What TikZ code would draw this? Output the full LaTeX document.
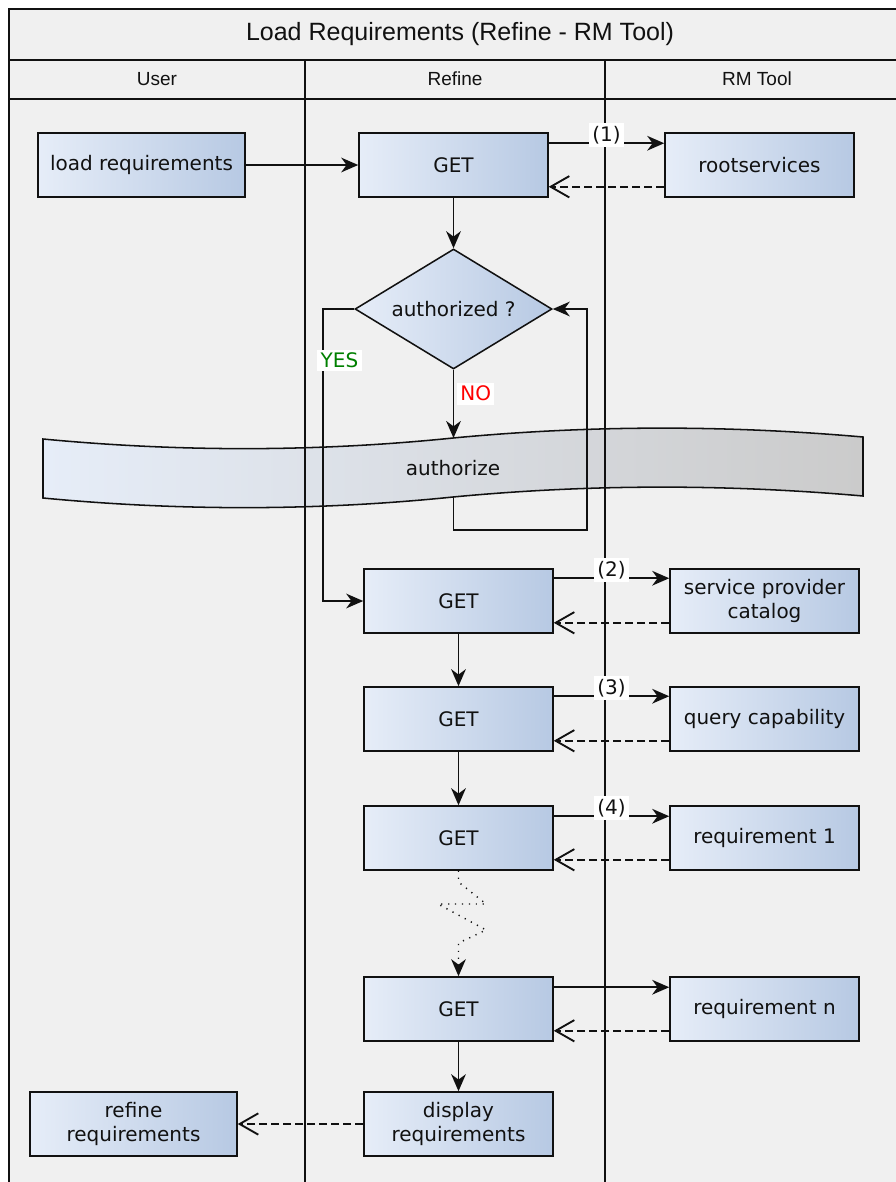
\documentclass[tikz,border=0pt]{standalone}
\usepackage{fontspec}
\setmainfont{DejaVu Sans}
\newfontfamily\lanefont{Liberation Sans}
\usetikzlibrary{arrows.meta,shapes.geometric}

\definecolor{poolbg}{HTML}{F0F0F0}
\definecolor{boxlight}{HTML}{E6EDF8}
\definecolor{boxdark}{HTML}{B7C9E3}
\definecolor{bandright}{HTML}{CBCBCB}
\definecolor{yesgreen}{HTML}{008000}
\definecolor{ink}{HTML}{111111}

\tikzset{
  boxfont/.style={font=\fontsize{15}{17.5}\selectfont, text=ink},
  stepbox/.style={draw=ink, line width=1.15pt, left color=boxlight, right color=boxdark,
    minimum width=141.75pt, minimum height=48pt, inner sep=0pt, align=center, boxfont},
  widebox/.style={stepbox, minimum width=155.25pt},
  decision/.style={diamond, draw=ink, line width=1.15pt, left color=boxlight, right color=boxdark,
    minimum width=147.75pt, minimum height=90pt, inner sep=0pt},
  flow/.style={draw=ink, line width=1.4pt, -{Stealth[length=12.75pt,width=11pt,inset=4pt]}},
  reply/.style={draw=ink, line width=1.4pt, dash pattern=on 6pt off 3pt,
    -{Straight Barb[length=14pt,width=16pt]}},
  zigzag/.style={draw=ink, line width=1.1pt, dash pattern=on 0.9pt off 4.3pt,
    -{Stealth[length=12.75pt,width=11pt,inset=4pt]}},
  seqlbl/.style={fill=white, inner sep=2.5pt, boxfont},
  lanehdr/.style={font=\lanefont\fontsize{14.25}{16}\selectfont, text=ink},
  poolline/.style={draw=ink, line width=1.4pt},
}

\begin{document}
\begin{tikzpicture}[x=0.75pt,y=-0.75pt]
  % page and clipping
  \fill[white] (0,0) rectangle (896,1182);
  \clip (0,0) rectangle (896,1182);
  \useasboundingbox (0,0) rectangle (896,1182);

  % pool background
  \fill[poolbg] (9,9) rectangle (912,1200);

  % the "authorize" tape spanning all lanes
  \draw[draw=ink, line width=1.15pt, left color=boxlight, right color=bandright]
    (43,439) .. controls (180,452) and (316,452) .. (453,438)
             .. controls (590,425) and (726,425) .. (863,437)
    -- (863,496) .. controls (726,484) and (590,484) .. (453,497)
             .. controls (316,511) and (180,511) .. (43,498) -- cycle;
  \node[boxfont] (authz) at (453,468) {authorize};
  \coordinate (bandtop) at (453.5,438);
  \coordinate (bandbot) at (453.5,497);

  % pool frame, header rows and lane separators
  \draw[poolline, line width=1.6pt] (912,9) -- (9,9) -- (9,1200);
  \draw[poolline] (9,60) -- (912,60);
  \draw[poolline] (9,99) -- (912,99);
  \draw[poolline] (305,60) -- (305,1200);
  \draw[poolline] (605,60) -- (605,1200);

  \node[font=\lanefont\fontsize{18.75}{20}\selectfont, text=ink] (title) at (460,34)
    {Load Requirements (Refine - RM Tool)};
  \node[lanehdr] (laneuser) at (157,79) {User};
  \node[lanehdr] (lanerefine) at (455,79) {Refine};
  \node[lanehdr] (lanerm) at (757,79) {RM Tool};

  % activities
  \node[widebox] (load) at (141.5,165) {load requirements};
  \node[stepbox] (get1) at (453.5,165) {GET};
  \node[stepbox] (root) at (759.5,165) {rootservices};
  \node[decision, label={[boxfont]center:authorized ?}] (auth) at (453.5,309) {};

  \node[stepbox] (get2) at (458.5,601) {GET};
  \node[stepbox] (spc)  at (764.5,601) {service provider\\catalog};
  \node[stepbox] (get3) at (458.5,719) {GET};
  \node[stepbox] (qc)   at (764.5,719) {query capability};
  \node[stepbox] (get4) at (458.5,838) {GET};
  \node[stepbox] (req1) at (764.5,838) {requirement 1};
  \node[stepbox] (get5) at (458.5,1009) {GET};
  \node[stepbox] (reqn) at (764.5,1009) {requirement n};
  \node[stepbox] (disp) at (458.5,1124) {display\\requirements};
  \node[widebox] (refine) at (133.5,1124) {refine\\requirements};

  % bends of the routed connectors
  \coordinate (yesbend) at (323,309);
  \coordinate (loopbend) at (587,530);
  \coordinate (z1) at (458.5,882);
  \coordinate (z2) at (486,904);
  \coordinate (z3) at (438,904);
  \coordinate (z4) at (486,930);
  \coordinate (z5) at (458.5,943);

  % user request and discovery
  \draw[flow] (load) -- (get1);
  \draw[flow] ([yshift=-8.25pt]get1.north east) --
    node[seqlbl, yshift=6pt] {(1)} ([yshift=-8.25pt]root.north west);
  \draw[reply] ([yshift=8.25pt]root.south west) -- ([yshift=8.25pt]get1.south east);
  \draw[flow] (get1) -- (auth);

  % authorization loop
  \draw[flow] (auth.south) -- node[seqlbl, text=red, anchor=west, xshift=2pt, pos=0.35] {NO}
    (auth.south |- bandtop);
  \draw[flow] (bandbot) |- (loopbend) |- (auth.east);
  \draw[flow] (auth.west) -- (yesbend) |- (get2.west);
  \node[seqlbl, text=yesgreen] (yes) at (339.5,360.5) {YES};

  % resource requests
  \draw[flow] ([yshift=-7.5pt]get2.north east) --
    node[seqlbl, yshift=6pt] {(2)} ([yshift=-7.5pt]spc.north west);
  \draw[reply] ([yshift=8.25pt]spc.south west) -- ([yshift=8.25pt]get2.south east);
  \draw[flow] (get2) -- (get3);

  \draw[flow] ([yshift=-7.5pt]get3.north east) --
    node[seqlbl, yshift=6pt] {(3)} ([yshift=-7.5pt]qc.north west);
  \draw[reply] ([yshift=8.25pt]qc.south west) -- ([yshift=8.25pt]get3.south east);
  \draw[flow] (get3) -- (get4);

  \draw[flow] ([yshift=-8.25pt]get4.north east) --
    node[seqlbl, yshift=6pt] {(4)} ([yshift=-8.25pt]req1.north west);
  \draw[reply] ([yshift=8.25pt]req1.south west) -- ([yshift=8.25pt]get4.south east);

  \draw[zigzag] (get4.south) -- (z1) -- (z2) -- (z3) -- (z4) -- (z5) -- (get5.north);

  \draw[flow] ([yshift=-8.25pt]get5.north east) -- ([yshift=-8.25pt]reqn.north west);
  \draw[reply] ([yshift=8.25pt]reqn.south west) -- ([yshift=8.25pt]get5.south east);
  \draw[flow] (get5) -- (disp);

  \draw[reply] (disp) -- (refine);
\end{tikzpicture}
\end{document}
